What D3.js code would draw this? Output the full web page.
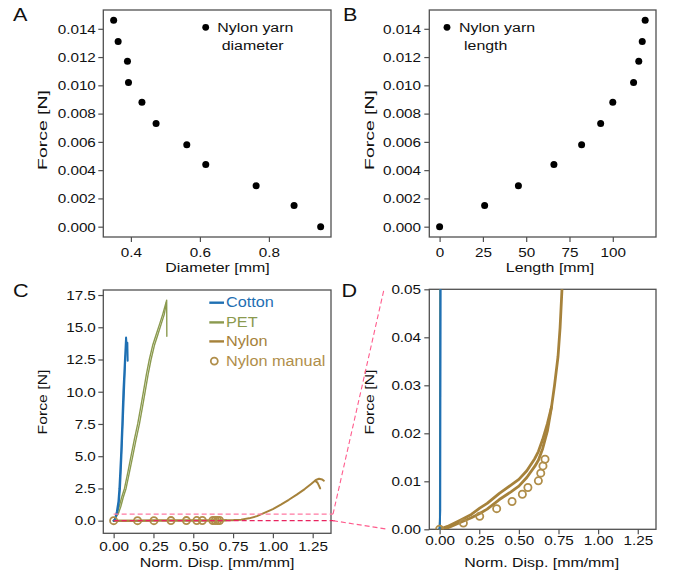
<!DOCTYPE html>
<html><head><meta charset="utf-8">
<script src="https://cdn.jsdelivr.net/npm/d3@7"></script>
<style>body{margin:0;background:#fff} svg{display:block} text{font-family:"Liberation Sans",Arial,sans-serif;fill:#111}</style>
</head><body><svg id="chart" width="680" height="575"></svg>
<script>
// ---------- data ----------
const diameterMm    = [0.35,0.363,0.39,0.393,0.432,0.473,0.562,0.617,0.763,0.873,0.95];
const diameterForce = [0.0146,0.0131,0.0117,0.0102,0.0088,0.0073,0.0058,0.0044,0.0029,0.0015,0.0];
const lengthMm      = [0,26,45.5,66,82,93,100,112,115,117,118.7];
const lengthForce   = [0,0.0015,0.0029,0.0044,0.0058,0.0073,0.0088,0.0102,0.0117,0.0131,0.0146];

const cottonDisp  = [0,0.004,0.006,0.012,0.02,0.03,0.036,0.046,0.054,0.061,0.071,0.078,0.082,0.086,0.088];
const cottonForce = [0,0.004,0.05,0.3,0.7,1.5,2.5,5,7.5,10,12.5,14.2,13.4,13.8,12.4];
const cotton2Disp  = [0,0.003,0.005,0.014,0.024,0.034,0.041,0.05,0.058,0.066,0.074,0.08];
const cotton2Force = [0,0.004,0.05,0.3,0.7,1.5,2.5,5,7.5,10,12.5,13.6];

const petDisp  = [0,0.003,0.005,0.01,0.02,0.035,0.05,0.068,0.09,0.109,0.13,0.151,0.17,0.187,0.205,0.224,0.245,0.266,0.29,0.308,0.333,0.334];
const petForce = [0,0.01,0.06,0.2,0.5,1.1,1.8,2.5,3.8,5,6.3,7.5,8.8,10,11.3,12.5,13.6,14.4,15.3,16,17.1,14.3];
const pet2Disp  = [0,0.028,0.045,0.06,0.078,0.1,0.12,0.141,0.162,0.181,0.198,0.216,0.235,0.256,0.277,0.3,0.318,0.331];
const pet2Force = [0,0.5,1.1,1.8,2.5,3.8,5,6.3,7.5,8.8,10,11.3,12.5,13.6,14.4,15.3,16,16.9];

const nylonDisp  = [0,0.05,0.13,0.2,0.253,0.3,0.377,0.45,0.5,0.55,0.6,0.623,0.65,0.68,0.706,0.725,0.747,0.76,0.772,0.8,0.85,0.9,0.95,1.0,1.05,1.1,1.15,1.2,1.24,1.27,1.29,1.31,1.32];
const nylonForce = [0,0.0006,0.0019,0.0031,0.0044,0.0054,0.0075,0.0092,0.0104,0.0122,0.0147,0.0162,0.0187,0.022,0.0255,0.03,0.036,0.042,0.05,0.08,0.18,0.35,0.62,0.9,1.25,1.62,2.02,2.45,2.85,3.15,3.25,3.2,3.1];
const nylon2Disp  = [0,0.05,0.13,0.2,0.253,0.3,0.377,0.45,0.5,0.55,0.6,0.623,0.65,0.68,0.706];
const nylon2Force = [0,0.0003,0.0014,0.0024,0.0033,0.0042,0.0062,0.0078,0.009,0.0108,0.0131,0.0144,0.0168,0.0205,0.0255];
const nylonHookDisp  = [1.265,1.28,1.29,1.297];
const nylonHookForce = [3.1,2.95,2.7,2.5];

const manualDisp  = [0,0.15,0.253,0.36,0.457,0.522,0.557,0.623,0.638,0.652,0.665];
const manualForce = [0,0.0013,0.0027,0.0043,0.0058,0.0073,0.0087,0.0101,0.0117,0.0132,0.0146];

const ticksA_x = [0.4,0.6,0.8];
const ticksAB_y = [0,0.002,0.004,0.006,0.008,0.010,0.012,0.014];
const ticksB_x = [0,25,50,75,100];
const ticksC_y = [0,2.5,5,7.5,10,12.5,15,17.5];
const ticksCD_x = [0,0.25,0.5,0.75,1.0,1.25];
const ticksD_y = [0,0.01,0.02,0.03,0.04,0.05];

const legendC = ["Cotton","PET","Nylon","Nylon manual"];
const colors = {cotton:"#1f70b3", pet:"#8b9a4f", nylon:"#a6823b", manual:"#b08e4a"};

const zip = (a,b)=>a.map((v,i)=>[v,b[i]]);

// ---------- layout ----------
const svg = d3.select("#chart");
const FS = 13.5;      // base font size
const TSX = 1.13;     // horizontal glyph widening for tick labels
const LSX = 1.18;     // widening for axis labels / legend text
const frame = "#505050";

function txt(parent, x, y, str, opt={}){
  const t = parent.append("text")
    .attr("transform",`translate(${x},${y})${opt.rot?" rotate("+opt.rot+")":""} scale(${opt.sx||LSX},1)`)
    .attr("font-size",opt.size||FS).attr("text-anchor",opt.anchor||"start").text(str);
  if(opt.color) t.style("fill",opt.color);
  return t;
}

function panel(cfg){
  const g = svg.append("g");
  const x = d3.scaleLinear().domain(cfg.xd).range([cfg.L,cfg.R]);
  const y = d3.scaleLinear().domain(cfg.yd).range([cfg.B,cfg.T]);
  const id = "clip"+cfg.name;
  svg.append("clipPath").attr("id",id).append("rect")
    .attr("x",cfg.L).attr("y",cfg.T).attr("width",cfg.R-cfg.L).attr("height",cfg.B-cfg.T);
  const gx = g.append("g").attr("transform",`translate(0,${cfg.B})`)
    .call(d3.axisBottom(x).tickValues(cfg.xt).tickFormat(cfg.xf).tickSize(5).tickPadding(cfg.xpad).tickSizeOuter(0));
  const gy = g.append("g").attr("transform",`translate(${cfg.L},0)`)
    .call(d3.axisLeft(y).tickValues(cfg.yt).tickFormat(cfg.yf).tickSize(5).tickPadding(cfg.ypad).tickSizeOuter(0));
  [gx,gy].forEach(a=>{
    a.select(".domain").remove();
    a.selectAll("line").attr("stroke",frame).attr("stroke-width",1.2);
    a.selectAll("text").attr("font-size",FS).attr("fill","#111")
      .attr("transform",`scale(${TSX},1)`)
      .style("font-family","'Liberation Sans',Arial,sans-serif");
  });
  g.append("rect").attr("x",cfg.L).attr("y",cfg.T).attr("width",cfg.R-cfg.L).attr("height",cfg.B-cfg.T)
    .attr("fill","none").attr("stroke",frame).attr("stroke-width",1.3);
  const plot = svg.append("g").attr("clip-path",`url(#${id})`);
  txt(g, cfg.xlx, cfg.xly, cfg.xl, {anchor:"middle"});
  txt(g, cfg.ylx, cfg.yly, "Force [N]", {anchor:"middle", rot:-90, sx:cfg.ysx});
  txt(g, cfg.lx, cfg.ly, cfg.name, {size:18, sx:1.2});
  return {x,y,plot,g};
}

const fmt3 = d3.format(".3f"), fmt1 = d3.format(".1f"), fmt2 = d3.format(".2f");

// Panel A
const A = panel({name:"A",L:103.3,R:331,T:10,B:237,xd:[0.32,0.98],yd:[-0.00073,0.01533],
  xt:ticksA_x,yt:ticksAB_y,xf:d3.format(".1f"),yf:fmt3,xpad:5.5,ypad:1.6,
  xl:"Diameter [mm]",xlx:217.5,xly:272,ylx:47,yly:130,ysx:1.44,lx:13,ly:20.5});
A.plot.selectAll("circle").data(zip(diameterMm,diameterForce)).join("circle")
  .attr("cx",d=>A.x(d[0])).attr("cy",d=>A.y(d[1])).attr("r",3.5).attr("fill","#000");
A.g.append("circle").attr("cx",205.7).attr("cy",27.3).attr("r",3.4).attr("fill","#000");
txt(A.g, 217.3, 32, "Nylon yarn");
txt(A.g, 221.7, 50, "diameter");

// Panel B
const B = panel({name:"B",L:429.3,R:656,T:10,B:237,xd:[-5.95,124.95],yd:[-0.00073,0.01533],
  xt:ticksB_x,yt:ticksAB_y,xf:d3.format("d"),yf:fmt3,xpad:5.5,ypad:2.3,
  xl:"Length [mm]",xlx:550,xly:272,ylx:374,yly:130,ysx:1.44,lx:343,ly:20.5});
B.plot.selectAll("circle").data(zip(lengthMm,lengthForce)).join("circle")
  .attr("cx",d=>B.x(d[0])).attr("cy",d=>B.y(d[1])).attr("r",3.5).attr("fill","#000");
B.g.append("circle").attr("cx",447).attr("cy",27.3).attr("r",3.4).attr("fill","#000");
txt(B.g, 459, 32, "Nylon yarn");
txt(B.g, 464, 50, "length");

// Panels C and D
const cdX = [-0.065,1.365];
const C = panel({name:"C",L:103.3,R:331,T:290,B:533.3,xd:cdX,yd:[-0.98,17.89],
  xt:ticksCD_x,yt:ticksC_y,xf:fmt2,yf:fmt1,xpad:2.8,ypad:1.6,
  xl:"Norm. Disp. [mm/mm]",xlx:217,xly:567,ylx:47,yly:402,ysx:1.17,lx:13,ly:297});
const D = panel({name:"D",L:429.3,R:656,T:289.3,B:529.3,xd:cdX,yd:[0,0.05],
  xt:ticksCD_x,yt:ticksD_y,xf:fmt2,yf:fmt2,xpad:1.5,ypad:2.3,
  xl:"Norm. Disp. [mm/mm]",xlx:541.7,xly:567,ylx:374,yly:402,ysx:1.17,lx:341.5,ly:297});

function drawSeries(P, lw){
  const line = d3.line().x(d=>P.x(d[0])).y(d=>P.y(d[1]));
  const add = (data,color,w)=>P.plot.append("path").datum(data).attr("d",line)
    .attr("fill","none").attr("stroke",color).attr("stroke-width",w).attr("stroke-linejoin","round").attr("stroke-linecap","round");
  add(zip(nylonDisp,nylonForce),colors.nylon,lw);
  add(zip(nylon2Disp,nylon2Force),colors.nylon,lw);
  add(zip(nylonHookDisp,nylonHookForce),colors.nylon,lw);
  add(zip(petDisp,petForce),colors.pet,1.4);
  add(zip(pet2Disp,pet2Force),colors.pet,1.4);
  add(zip(cottonDisp,cottonForce),colors.cotton,2);
  add(zip(cotton2Disp,cotton2Force),colors.cotton,1.6);
  P.plot.append("g").selectAll("circle").data(zip(manualDisp,manualForce)).join("circle")
    .attr("cx",d=>P.x(d[0])).attr("cy",d=>P.y(d[1])).attr("r",3.6)
    .attr("fill","none").attr("stroke",colors.manual).attr("stroke-width",1.8);
}

// zoom box annotations in C (drawn under series)
const boxRight = 333;
svg.append("line").attr("x1",C.x(0)).attr("x2",boxRight).attr("y1",C.y(0.5)).attr("y2",C.y(0.5))
  .attr("stroke","#ff7aa2").attr("stroke-width",1.3).attr("stroke-dasharray","5,3");
svg.append("line").attr("x1",C.x(0)).attr("x2",335).attr("y1",C.y(0)).attr("y2",C.y(0))
  .attr("stroke","#e8245f").attr("stroke-width",1.1).attr("stroke-dasharray","5,3");
svg.append("line").attr("x1",boxRight).attr("y1",C.y(0.5)).attr("x2",384).attr("y2",D.y(0.05))
  .attr("stroke","#ff5c8d").attr("stroke-width",1.1).attr("stroke-dasharray","5,3");
svg.append("line").attr("x1",boxRight).attr("y1",C.y(0)).attr("x2",388).attr("y2",D.y(0))
  .attr("stroke","#ff5c8d").attr("stroke-width",1.1).attr("stroke-dasharray","5,3");

drawSeries(C, 2);
drawSeries(D, 2.8);

// Legend C
const legY = [307.3,327,346,365.7];
const legCol = [colors.cotton,colors.pet,colors.nylon,colors.manual];
legendC.forEach((t,i)=>{
  const cy = legY[i]-4.6;
  if(i<3){
    svg.append("line").attr("x1",209.3).attr("x2",224).attr("y1",cy).attr("y2",cy)
      .attr("stroke",legCol[i]).attr("stroke-width",2.4);
  } else {
    svg.append("circle").attr("cx",214.3).attr("cy",cy).attr("r",3.5)
      .attr("fill","none").attr("stroke",legCol[i]).attr("stroke-width",1.8);
  }
  txt(svg, 226, legY[i], t, {size:14, sx:1.16, color:legCol[i]});
});
</script></body></html>
